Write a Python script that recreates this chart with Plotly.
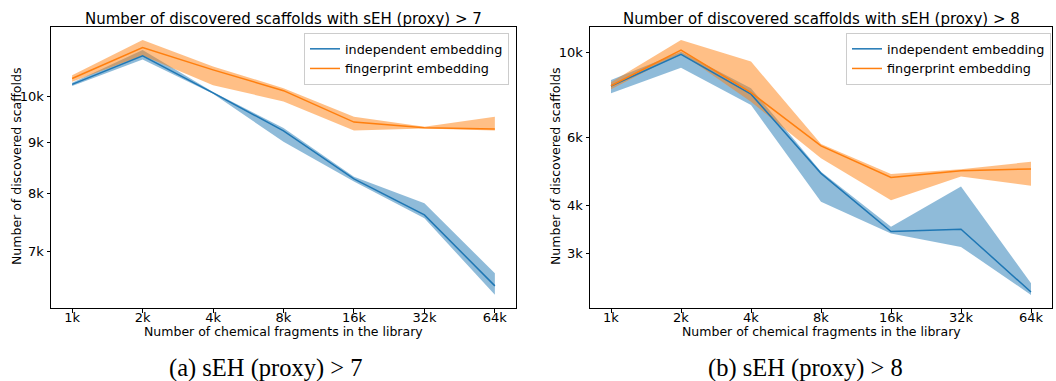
import math
import plotly.graph_objects as go

# ---------------- data ----------------
x_labels = ["1k", "2k", "4k", "8k", "16k", "32k", "64k"]
x_idx = list(range(len(x_labels)))

# (a) sEH (proxy) > 7
a_ind_mean = [10290, 10990, 10090, 9240, 8270, 7610, 6460]
a_ind_low = [10250, 10900, 10070, 9010, 8220, 7550, 6330]
a_ind_high = [10330, 11140, 10110, 9300, 8310, 7820, 6650]
a_fp_mean = [10430, 11200, 10640, 10140, 9430, 9310, 9280]
a_fp_low = [10350, 11000, 10270, 9890, 9250, 9290, 9250]
a_fp_high = [10510, 11400, 10720, 10200, 9550, 9330, 9550]

# (b) sEH (proxy) > 8
b_ind_mean = [8190, 9900, 7800, 4850, 3420, 3470, 2380]
b_ind_low = [7840, 9140, 7310, 4090, 3380, 3120, 2340]
b_ind_high = [8490, 10050, 8080, 4900, 3520, 4480, 2510]
b_fp_mean = [8200, 10160, 7870, 5720, 4730, 4930, 4980]
b_fp_low = [8030, 9960, 7450, 5310, 4130, 4760, 4500]
b_fp_high = [8370, 10790, 9480, 5780, 4830, 4970, 5200]

a_ticks = [7000, 8000, 9000, 10000]
a_tick_text = ["7k", "8k", "9k", "10k"]
b_ticks = [3000, 4000, 6000, 10000]
b_tick_text = ["3k", "4k", "6k", "10k"]

series_names = ["independent embedding", "fingerprint embedding"]
titles = ["Number of discovered scaffolds with sEH (proxy) > 7",
          "Number of discovered scaffolds with sEH (proxy) > 8"]
captions = ["(a) sEH (proxy) > 7", "(b) sEH (proxy) > 8"]
x_title = "Number of chemical fragments in the library"
y_title = "Number of discovered scaffolds"

BLUE = "#1f77b4"
ORANGE = "#ff7f0e"
BLUE_FILL = "rgba(31,119,180,0.5)"
ORANGE_FILL = "rgba(255,127,14,0.5)"

fig = go.Figure()

panels = [
    dict(xa="x", ya="y", leg="legend",
         data=[(a_ind_mean, a_ind_low, a_ind_high), (a_fp_mean, a_fp_low, a_fp_high)]),
    dict(xa="x2", ya="y2", leg="legend2",
         data=[(b_ind_mean, b_ind_low, b_ind_high), (b_fp_mean, b_fp_low, b_fp_high)]),
]
colors = [BLUE, ORANGE]
fills = [BLUE_FILL, ORANGE_FILL]

for p in panels:
    for k, (m, lo, hi) in enumerate(p["data"]):
        fig.add_trace(go.Scatter(x=x_idx, y=hi, mode="lines", line=dict(width=0),
                                 xaxis=p["xa"], yaxis=p["ya"], showlegend=False,
                                 hoverinfo="skip", legend=p["leg"]))
        fig.add_trace(go.Scatter(x=x_idx, y=lo, mode="lines", line=dict(width=0),
                                 fill="tonexty", fillcolor=fills[k],
                                 xaxis=p["xa"], yaxis=p["ya"], showlegend=False,
                                 hoverinfo="skip", legend=p["leg"]))
    for k, (m, lo, hi) in enumerate(p["data"]):
        fig.add_trace(go.Scatter(x=x_idx, y=m, mode="lines", name=series_names[k],
                                 line=dict(color=colors[k], width=1.5),
                                 xaxis=p["xa"], yaxis=p["ya"], legend=p["leg"]))

ytop, ybot = 1 - 27 / 381, 1 - 308 / 381
font = "DejaVu Sans"
axis_common = dict(showline=True, mirror=True, linecolor="black", linewidth=1,
                   ticks="outside", ticklen=3.5, tickwidth=1, tickcolor="black",
                   showgrid=False, zeroline=False,
                   tickfont=dict(family=font, size=13, color="black"))

legend_common = dict(y=1 - 33 / 381, xanchor="right", yanchor="top",
                     bgcolor="rgba(255,255,255,0.8)", bordercolor="#cccccc", borderwidth=1,
                     font=dict(family=font, size=12.8, color="black"),
                     tracegroupgap=0, itemwidth=30, traceorder="normal")

fig.update_layout(
    width=1056, height=381,
    margin=dict(l=0, r=0, t=0, b=0),
    paper_bgcolor="white", plot_bgcolor="white",
    font=dict(family=font, color="black"),
    xaxis=dict(domain=[51 / 1056, 516 / 1056], range=[-0.3, 6.3],
               tickvals=x_idx, ticktext=x_labels, anchor="y",
               ticklabelstandoff=-6, **axis_common),
    yaxis=dict(domain=[ybot, ytop], type="log",
               range=[math.log10(6138), math.log10(11747)],
               tickvals=a_ticks, ticktext=a_tick_text, anchor="x", **axis_common),
    xaxis2=dict(domain=[590 / 1056, 1052 / 1056], range=[-0.3, 6.3],
                tickvals=x_idx, ticktext=x_labels, anchor="y2",
                ticklabelstandoff=-6, **axis_common),
    yaxis2=dict(domain=[ybot, ytop], type="log",
                range=[math.log10(2163), math.log10(11666)],
                tickvals=b_ticks, ticktext=b_tick_text, anchor="x2", **axis_common),
    legend=dict(x=509 / 1056, **legend_common),
    legend2=dict(x=1051 / 1056, **legend_common),
    showlegend=True,
)

ann = []
for cx, t in zip([283.5, 821], titles):
    ann.append(dict(text=t, x=cx / 1056, y=1 - 19 / 381, xref="paper", yref="paper",
                    showarrow=False, xanchor="center", yanchor="middle",
                    font=dict(family=font, size=15, color="black")))
for cx in [283.5, 821]:
    ann.append(dict(text=x_title, x=cx / 1056, y=1 - 331 / 381, xref="paper", yref="paper",
                    showarrow=False, xanchor="center", yanchor="middle",
                    font=dict(family=font, size=12.5, color="black")))
for lx in [16, 555]:
    ann.append(dict(text=y_title, x=lx / 1056, y=1 - 167 / 381, xref="paper", yref="paper",
                    showarrow=False, xanchor="center", yanchor="middle", textangle=-90,
                    font=dict(family=font, size=12.5, color="black")))
for cx, t in zip([265.5, 805], captions):
    ann.append(dict(text=t, x=cx / 1056, y=1 - 368 / 381, xref="paper", yref="paper",
                    showarrow=False, xanchor="center", yanchor="middle",
                    font=dict(family="Liberation Serif", size=24.5, color="black")))
fig.update_layout(annotations=ann)

fig.write_html("out.html")
